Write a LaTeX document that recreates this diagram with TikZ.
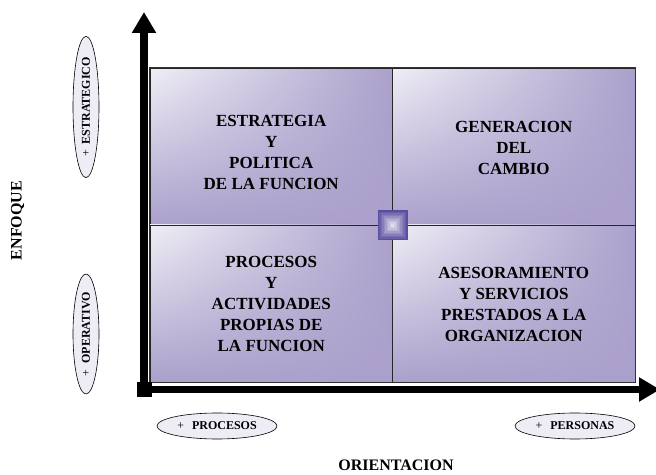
\documentclass[tikz,border=0pt]{standalone}
\usepackage{fontspec}
\setmainfont{Liberation Serif}
\usetikzlibrary{arrows.meta,shapes.geometric,shadings}
\definecolor{qlight}{RGB}{240,238,246}
\definecolor{qdark}{RGB}{170,160,203}
\definecolor{ovfill}{RGB}{238,236,245}
\definecolor{sqdark}{RGB}{90,78,158}

\begin{document}
\begin{tikzpicture}[x=1pt, y=1pt,
  quad/.style={draw=black!85, line width=0.8pt, minimum width=242.5pt, minimum height=157pt, inner sep=0pt,
    upper left=qlight, upper right=qdark, lower left=qdark, lower right=qdark},
  qtext/.style={align=center, inner sep=0pt, font=\fontsize{17}{21}\selectfont\bfseries},
  tag/.style={ellipse, draw, fill=ovfill, line width=0.6pt, minimum width=120pt, minimum height=26pt, inner sep=0pt,
    font=\fontsize{12}{14}\selectfont\bfseries},
  axis/.style={line width=7.5pt, -{Triangle[length=21pt, width=23pt]}},
  title/.style={font=\fontsize{16}{18}\selectfont\bfseries}]
\useasboundingbox (0,0) rectangle (656,474);

% quadrants
\node[quad] (tl) at (271.25,327.5) {};
\node[quad] (tr) at (513.75,327.5) {};
\node[quad] (bl) at (271.25,170.5) {};
\node[quad] (br) at (513.75,170.5) {};
\draw[black!80, line width=1.3pt] (tl.north west) rectangle (br.south east);

\node[qtext] (tltext) at ([yshift=-6pt]tl.center) {ESTRATEGIA\\Y\\POLITICA\\DE LA FUNCION};
\node[qtext] (trtext) at ([yshift=-1.5pt]tr.center) {GENERACION\\DEL\\CAMBIO};
\node[qtext] (bltext) at (bl.center) {PROCESOS\\Y\\ACTIVIDADES\\PROPIAS DE\\LA FUNCION};
\node[qtext] (brtext) at ([yshift=-0.5pt]br.center) {ASESORAMIENTO\\Y SERVICIOS\\PRESTADOS A LA\\ORGANIZACION};

% centre square
\foreach \i in {0,...,9}{
  \pgfmathsetmacro\s{30-3*\i}
  \pgfmathtruncatemacro\p{100-9*\i}
  \node[fill=sqdark!\p!white, minimum size=\s pt, inner sep=0pt] (sq\i) at (tl.south east) {};
}

% axes
\node[fill=black, minimum size=15pt, inner sep=0pt] (o) at (144,84.5) {};
\coordinate (ytip) at (144,462);
\coordinate (xtip) at (660,84.5);
\draw[axis] (o.center) -- (ytip);
\draw[axis] (o.center) -- (xtip);

% tags
\node[tag, rotate=90] (estr) at (86,367) {{\mdseries +}\hspace{6pt}ESTRATEGICO};
\node[tag, rotate=90] (oper) at (86,140) {{\mdseries +}\hspace{6pt}OPERATIVO};
\node[tag] (proc) at (217,48) {{\mdseries +}\hspace{8pt}PROCESOS};
\node[tag] (pers) at (575,48) {{\mdseries +}\hspace{8pt}PERSONAS};

% titles
\node[title, rotate=90] (enfoque) at (17.5,253.5) {ENFOQUE};
\node[title] (orient) at (396,9) {ORIENTACION};
\end{tikzpicture}
\end{document}
